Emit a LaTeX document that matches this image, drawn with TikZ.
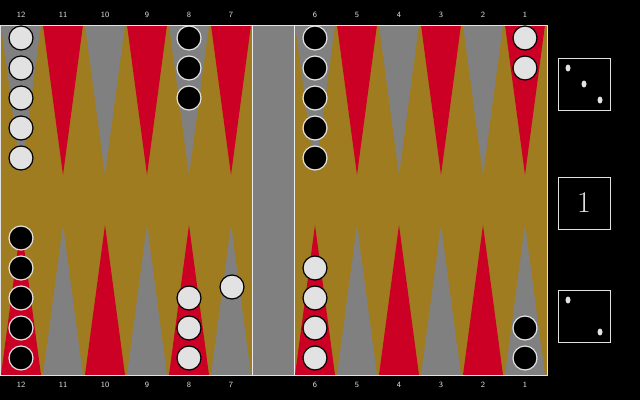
\documentclass[tikz,border=0pt]{standalone}
\definecolor{gold}{RGB}{160,124,32}
\definecolor{bred}{RGB}{204,0,36}
\definecolor{bgray}{RGB}{128,128,128}
\definecolor{wchk}{RGB}{226,226,226}
\usetikzlibrary{shapes.geometric}
\tikzset{
 wc/.style={circle,fill=wchk,draw=black,line width=1.2pt,minimum size=24pt,inner sep=0},
 bc/.style={circle,fill=black,draw=wchk,line width=1.2pt,minimum size=24pt,inner sep=0},
 lab/.style={text=wchk,font=\footnotesize\sffamily},
 die/.style={draw=wchk,line width=1pt,minimum width=52pt,minimum height=52pt,inner sep=0},
 pip/.style={fill=wchk,ellipse,minimum width=5pt,minimum height=7pt,inner sep=0}
}
\begin{document}
\begin{tikzpicture}[x=1pt,y=-1pt]
\fill[black] (0,0) rectangle (640,400);
\fill[gold] (0,25) rectangle (548,375);
\fill[bgray] (252,25) rectangle (294,375);
\foreach \x/\tc/\bcol in {0/bgray/bred,42/bred/bgray,84/bgray/bred,126/bred/bgray,168/bgray/bred,210/bred/bgray,
 294/bgray/bred,336/bred/bgray,378/bgray/bred,420/bred/bgray,462/bgray/bred,504/bred/bgray}{
 \fill[\tc] (\x+1,25) -- (\x+41,25) -- (\x+21,175) -- cycle;
 \fill[\bcol] (\x+1,375) -- (\x+41,375) -- (\x+21,225) -- cycle;
}
\draw[wchk,line width=1pt] (0.5,25) rectangle (547.5,375);
\draw[wchk!70,line width=0.8pt] (252,25) -- (252,375) (294,25) -- (294,375);
\foreach \n/\x in {12/21,11/63,10/105,9/147,8/189,7/231,6/315,5/357,4/399,3/441,2/483,1/525}{
 \node[lab] (t\n) at (\x,15) {\n};
 \node[lab] (b\n) at (\x,385) {\n};
}
\foreach \y/\k in {38/1,68/2,98/3,128/4,158/5}{
 \node[wc] (a\k) at (21,\y) {};
 \node[bc] (c\k) at (315,\y) {};
 \node[bc] (d\k) at (21,396-\y) {};
}
\foreach \y/\k in {38/1,68/2,98/3}{
 \node[bc] (e\k) at (189,\y) {};
 \node[wc] (f\k) at (189,396-\y) {};
}
\foreach \y/\k in {38/1,68/2}{
 \node[wc] (g\k) at (525,\y) {};
 \node[bc] (h\k) at (525,396-\y) {};
}
\foreach \y/\k in {38/1,68/2,98/3,128/4}{
 \node[wc] (i\k) at (315,396-\y) {};
}
\node[wc] (j1) at (232,287) {};
\node[die] (d1) at (584,84) {};
\node[pip] (p1) at (568,68) {};
\node[pip] (p2) at (584,84) {};
\node[pip] (p3) at (600,100) {};
\node[die,text=wchk,font=\fontsize{30}{30}\selectfont] (cube) at (584,203) {1};
\node[die] (d2) at (584,316) {};
\node[pip] (p4) at (568,300) {};
\node[pip] (p5) at (600,332) {};
\end{tikzpicture}
\end{document}
